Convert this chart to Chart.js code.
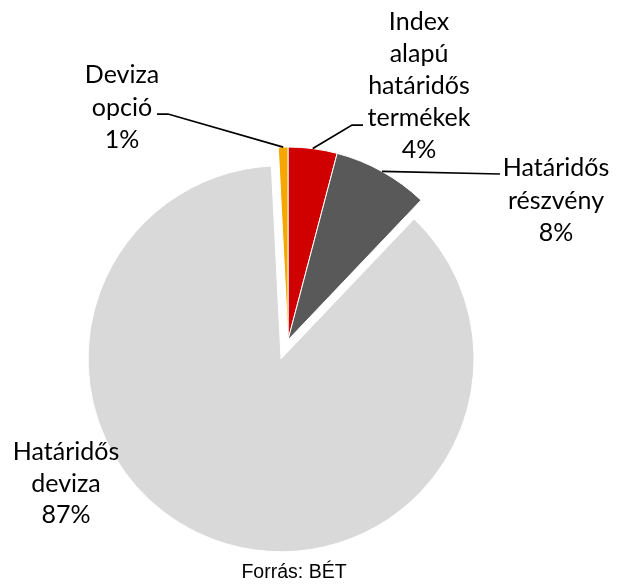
<html>
  <head>
    <style>
      body { margin: 0; background: #fff; }
      #wrap { position: relative; width: 627px; height: 586px; }
    </style>
  </head>
  <body>
    <div id="wrap">
      <canvas id="myChart"></canvas>
    </div>

    <script src="https://cdn.jsdelivr.net/npm/chart.js"></script>

    <script>
      "use strict";

      // data (clockwise from 12 o'clock)
      const categories = ['Index alapú határidős termékek', 'Határidős részvény', 'Határidős deviza', 'Deviza opció'];
      const shares = [4.1, 8.0, 87.1, 0.8];
      const shareLabels = ['4%', '8%', '87%', '1%'];
      const labelLines = [
          ['Index', 'alapú', 'határidős', 'termékek'],
          ['Határidős', 'részvény'],
          ['Határidős', 'deviza'],
          ['Deviza', 'opció']
      ];
      const colors = ['#D00000', '#595959', '#D9D9D9', '#F5A700'];
      const source = 'Forrás: BÉT';

      // where each label block sits, and its leader line (null = no line)
      const labelLayout = [
          { x: 419, y: 22,  step: 32,   leader: [[352, 125], [363, 125]] },
          { x: 556, y: 168, step: 32.5, leader: [[500, 174]] },
          { x: 66,  y: 452, step: 31.5, leader: null },
          { x: 122, y: 75,  step: 32.5, leader: [[168, 114], [157, 114]] }
      ];
      const explodeIndex = 2;
      const explodeBy = 20;

      const labelPlugin = {
          id: 'sliceLabels',
          afterDatasetsUpdate(chart) {
              const arc = chart.getDatasetMeta(0).data[explodeIndex];
              const mid = (arc.startAngle + arc.endAngle) / 2;
              arc.x += Math.cos(mid) * explodeBy;
              arc.y += Math.sin(mid) * explodeBy;
          },
          afterDraw(chart) {
              const ctx = chart.ctx;
              const arcs = chart.getDatasetMeta(0).data;
              ctx.save();

              // leader lines from slice edge to label
              ctx.strokeStyle = '#000';
              ctx.lineWidth = 1.75;
              arcs.forEach((arc, i) => {
                  const lay = labelLayout[i];
                  if (!lay.leader) return;
                  const mid = (arc.startAngle + arc.endAngle) / 2;
                  ctx.beginPath();
                  ctx.moveTo(arc.x + Math.cos(mid) * arc.outerRadius, arc.y + Math.sin(mid) * arc.outerRadius);
                  lay.leader.forEach(p => ctx.lineTo(p[0], p[1]));
                  ctx.stroke();
              });

              // category labels
              ctx.fillStyle = '#000';
              ctx.font = '25px Lato';
              ctx.textAlign = 'center';
              ctx.textBaseline = 'middle';
              labelLines.forEach((lines, i) => {
                  const lay = labelLayout[i];
                  lines.concat([shareLabels[i]]).forEach((t, k) => {
                      ctx.fillText(t, lay.x, lay.y + k * lay.step);
                  });
              });

              ctx.font = '19.5px "Liberation Sans"';
              ctx.fillText(source, 294, 573);
              ctx.restore();
          }
      };

      const ctx = document.getElementById('myChart').getContext('2d');
      const chart = new Chart(ctx, {
          type: 'pie',
          data: {
              labels: categories,
              datasets: [{
                  data: shares,
                  backgroundColor: colors,
                  borderColor: '#fff',
                  borderWidth: 1
              }]
          },
          options: {
              responsive: true,
              maintainAspectRatio: false,
              animation: false,
              events: [],
              radius: 193,
              layout: { padding: { left: 0, right: 51, top: 94, bottom: 0 } },
              plugins: {
                  legend: { display: false },
                  tooltip: { enabled: false }
              }
          },
          plugins: [labelPlugin]
      });
    </script>
  </body>
</html>
